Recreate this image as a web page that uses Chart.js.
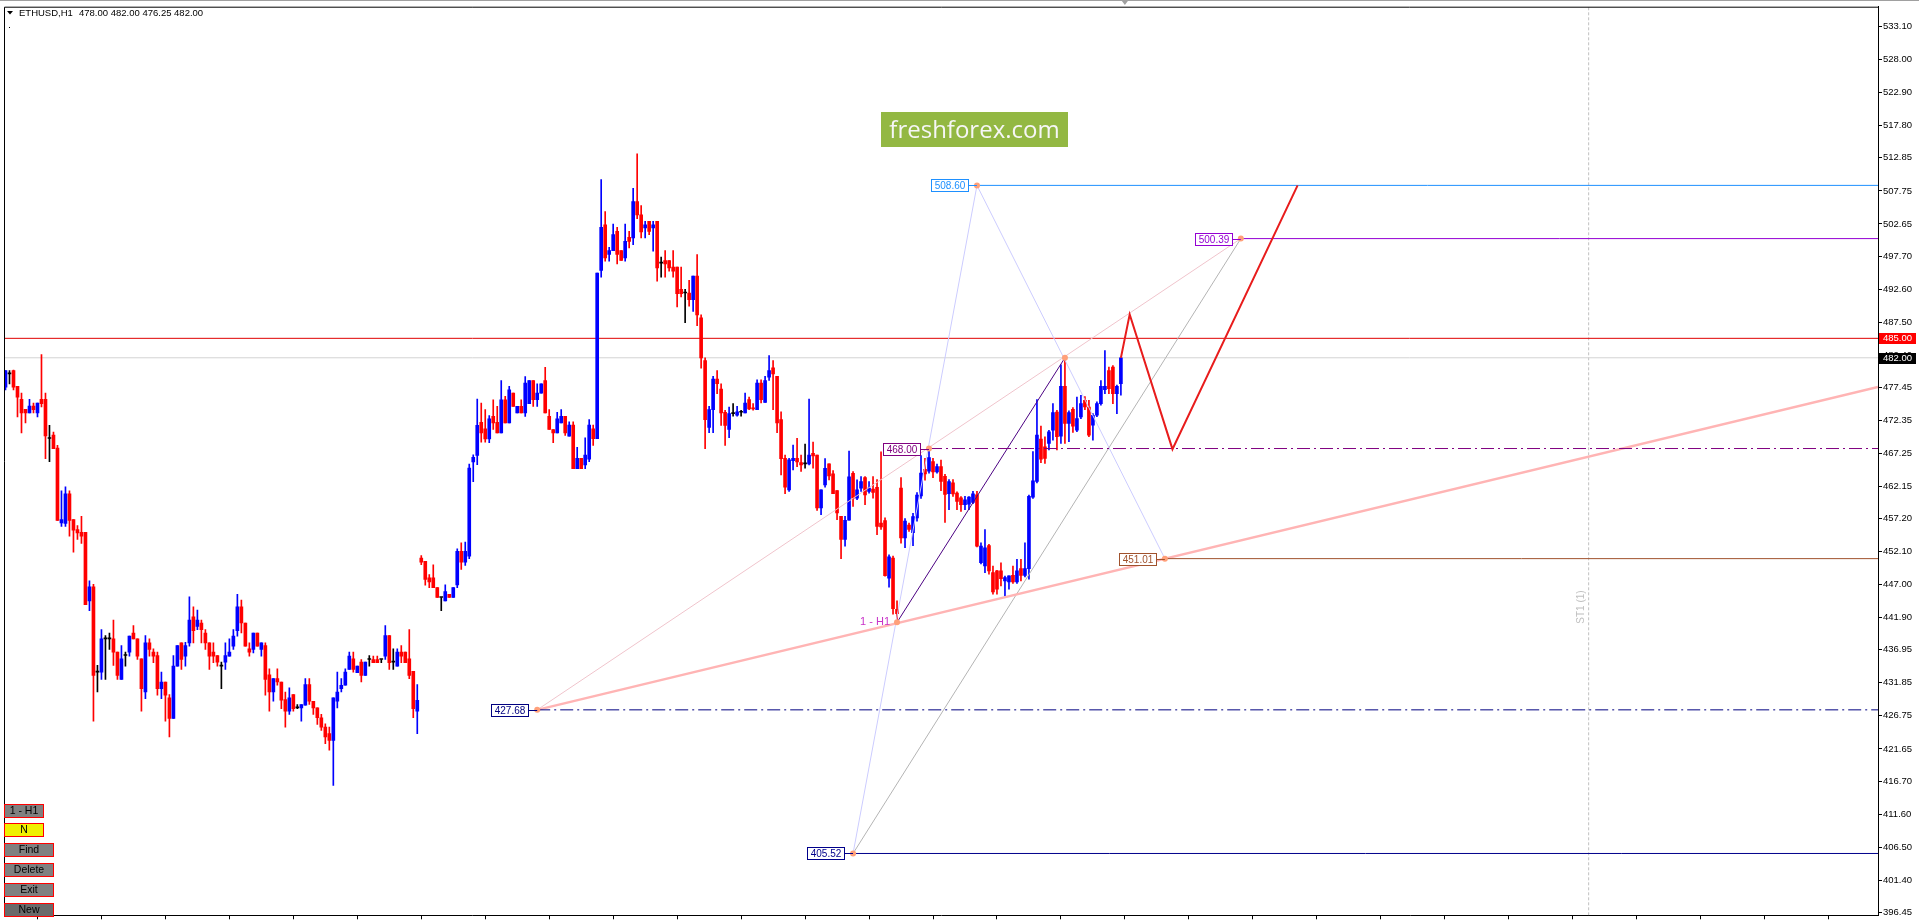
<!DOCTYPE html>
<html>
<head>
<meta charset="utf-8">
<script src="https://cdn.jsdelivr.net/npm/chart.js@4.4.1/dist/chart.umd.min.js"></script>
<style>
html, body { margin: 0; padding: 0; background: #fff; overflow: hidden; }
#wrap { width: 1919px; height: 922px; }
</style>
</head>
<body>
<div id="wrap"><canvas id="c" width="1919" height="922" style="width:1919px;height:922px"></canvas></div>
<script>
// ETHUSD H1 candles, left to right
var openP = [
477.47,479.52,480.03,477.58,475.58,474.05,473.49,474.56,473.49,475.58,475.58,469.55,470.06,468.07,456.52,456.46,461.01,457.03,455.49,455.08,
455.08,444.50,446.65,433.51,433.51,438.62,438.62,438.62,436.58,432.39,436.07,436.58,439.54,438.62,435.56,430.44,438.01,436.58,436.07,430.96,
431.98,429.52,426.35,434.43,438.01,435.96,438.01,442.05,440.57,441.08,439.54,438.01,436.58,436.07,434.43,435.04,435.96,437.50,439.90,443.58,
441.08,437.09,436.99,439.54,436.99,437.60,433.10,430.44,432.49,431.98,429.27,427.48,430.03,427.99,427.99,428.40,431.57,429.01,427.99,426.46,
425.02,424.00,422.97,429.01,430.96,431.47,433.92,435.56,433.41,435.04,433.00,435.45,435.45,435.45,435.45,435.96,439.13,435.04,434.43,436.58,
436.58,435.56,433.61,427.48,451.10,450.58,448.03,448.03,446.55,445.01,444.50,445.52,445.01,446.96,452.12,450.48,451.40,465.92,466.94,472.05,
471.03,469.50,472.97,472.05,470.42,475.53,471.95,476.55,473.49,474.51,473.49,474.92,478.50,475.53,476.55,478.50,472.97,470.93,470.42,471.95,
472.97,469.92,471.60,464.90,466.49,465.47,466.34,471.04,469.51,495.48,502.53,497.93,498.54,501.51,498.54,497.42,500.59,500.49,506.11,504.06,
502.02,503.04,502.02,503.04,496.60,497.01,497.01,495.99,495.99,492.56,492.00,492.00,490.98,494.61,488.17,481.57,471.25,474.01,478.71,477.18,
473.60,470.94,473.39,473.14,473.60,473.50,475.54,474.26,474.01,478.09,475.13,479.02,480.45,479.12,472.47,466.49,461.63,466.13,466.49,465.83,
465.62,465.62,467.26,467.00,458.82,462.40,465.62,464.09,461.53,457.55,453.96,456.93,464.19,460.35,461.89,463.52,461.38,461.73,462.00,456.50,
456.90,448.00,451.10,443.20,461.89,454.20,456.20,455.00,457.30,460.70,464.80,464.50,466.00,464.40,465.21,463.70,461.02,462.70,461.12,460.40,
459.33,459.43,459.69,460.86,450.38,449.87,453.04,448.85,449.11,449.11,447.57,447.42,448.44,447.42,449.47,448.44,449.47,460.51,462.91,469.45,
468.28,468.79,470.83,473.64,469.91,477.58,471.86,474.05,470.83,472.88,475.43,474.41,471.60,473.13,474.92,477.07,480.04,480.55,476.46,478.00
];
var highP = [
480.03,480.03,480.10,477.58,476.55,474.05,475.58,475.02,475.02,482.48,476.55,471.59,470.52,468.48,461.47,462.09,461.47,457.03,456.10,457.54,
455.08,447.57,447.06,434.53,440.05,439.13,439.54,441.54,436.58,437.60,436.58,439.08,440.67,438.62,435.56,439.13,438.62,437.09,436.58,433.51,
431.98,430.03,436.07,437.60,438.01,438.11,445.11,443.58,443.07,441.54,440.05,438.01,438.01,436.07,435.04,438.01,438.62,440.05,445.52,444.60,
441.08,438.01,439.54,439.54,438.01,438.01,434.02,432.49,434.02,431.98,430.44,431.06,430.03,428.50,428.50,432.49,432.49,429.01,427.99,426.97,
425.53,425.02,429.52,433.51,432.49,434.02,436.58,436.58,434.43,435.45,435.04,436.07,435.96,435.96,435.45,440.67,439.13,437.09,437.09,437.60,
436.58,440.05,433.61,431.57,451.50,450.58,448.54,450.07,446.55,445.01,446.96,445.52,446.55,452.53,453.45,453.55,465.61,467.04,475.63,475.02,
474.00,473.08,475.53,474.51,478.50,476.04,477.58,476.55,474.51,475.53,479.11,478.50,478.50,477.98,477.98,480.54,474.00,470.93,473.59,474.00,
472.97,472.11,472.11,468.18,466.49,469.66,472.47,471.60,495.07,509.48,504.57,499.05,502.63,502.12,498.54,502.63,501.51,508.15,513.47,505.50,
503.04,503.04,503.04,503.04,497.52,498.54,497.01,498.54,495.99,495.99,492.56,493.94,494.61,497.93,488.63,481.98,474.52,479.12,480.04,478.00,
473.90,474.41,474.92,474.52,473.90,476.56,475.95,474.92,478.60,478.60,479.12,482.34,481.57,479.12,473.65,467.00,466.49,468.54,469.56,467.00,
468.69,475.64,469.00,467.00,461.63,466.44,465.62,464.60,461.53,457.55,457.54,467.61,464.44,463.17,463.68,463.68,462.91,463.68,463.20,467.50,
457.30,451.60,451.40,444.50,463.50,457.20,456.50,458.00,461.20,466.90,466.50,468.00,466.50,465.60,466.20,464.00,463.20,463.20,461.30,460.60,
460.61,460.60,461.38,461.38,453.45,455.50,453.20,449.87,449.20,450.38,448.30,448.34,449.87,450.90,450.90,453.45,460.80,467.51,475.54,471.45,
469.81,470.80,474.92,473.90,480.90,482.00,473.80,474.30,475.95,476.20,476.00,475.43,473.40,475.20,478.50,483.10,480.55,480.80,477.80,482.00
];
var lowP = [
477.06,477.98,477.06,472.87,470.42,471.95,473.49,473.49,472.87,474.41,466.43,465.97,467.96,456.92,456.00,456.00,454.47,452.02,453.96,453.34,
443.89,442.97,425.94,430.44,432.39,432.39,436.99,434.53,432.39,432.39,434.43,435.96,438.62,435.45,427.48,429.42,435.96,434.94,429.93,429.42,
425.94,423.49,426.35,434.43,433.92,434.43,437.50,438.01,440.05,438.01,436.99,433.92,434.94,434.43,430.96,433.92,435.96,436.99,439.03,439.54,
437.50,435.96,436.47,437.50,435.96,429.93,427.48,429.01,431.47,427.88,425.02,426.97,427.48,427.88,425.94,428.40,428.50,426.97,425.43,424.51,
422.46,421.44,416.03,427.99,430.44,431.47,433.92,433.51,433.41,431.98,433.00,434.43,434.94,434.94,434.94,435.45,433.92,433.92,434.43,434.94,
434.94,432.49,426.46,424.00,450.07,446.90,446.55,446.55,445.01,442.97,444.50,445.01,445.01,446.55,449.36,449.97,451.00,462.90,465.51,468.99,
468.99,468.89,470.93,470.42,470.42,471.95,471.95,474.51,473.49,473.49,472.97,474.92,474.51,474.51,476.55,473.49,470.93,468.89,470.42,471.95,
470.01,469.92,464.90,464.90,464.90,464.90,465.98,468.48,469.51,494.45,496.91,496.91,498.54,496.50,497.01,496.91,498.95,499.46,503.45,500.49,
500.49,501.00,498.44,493.84,494.45,494.45,495.37,494.45,489.85,491.39,487.40,489.95,489.14,486.94,480.40,467.97,470.43,470.43,476.46,471.55,
468.48,469.66,472.98,472.98,472.98,473.50,474.01,473.90,474.01,475.03,475.13,478.50,474.01,470.43,463.93,461.02,461.38,464.70,465.21,464.45,
464.96,465.47,464.96,458.46,457.80,462.04,463.17,461.02,457.03,451.00,452.94,456.93,459.08,460.10,461.38,459.33,461.12,460.35,454.70,455.50,
448.30,446.60,442.46,441.20,453.40,452.70,455.20,453.00,456.80,460.30,463.10,464.20,463.50,464.20,461.50,456.60,458.57,460.60,458.57,458.31,
458.57,458.57,459.50,452.80,450.20,448.85,448.60,445.53,445.53,446.81,445.27,446.30,447.20,447.20,447.57,448.20,447.83,460.30,462.70,465.83,
465.72,467.77,469.30,467.77,468.79,468.79,469.04,470.47,470.60,472.60,474.00,469.81,469.30,472.90,474.70,476.46,476.46,474.92,473.39,476.25
];
var closeP = [
480.03,479.52,477.47,475.94,473.49,473.49,474.56,474.00,475.02,474.92,469.96,469.55,467.96,456.92,457.03,461.01,456.92,455.39,454.98,454.47,
443.89,446.65,433.00,433.51,438.62,438.62,438.62,436.58,433.00,435.56,436.07,439.08,438.62,435.96,430.96,438.01,436.99,435.96,430.96,431.98,
429.93,426.35,434.43,437.60,435.45,437.60,441.54,439.90,441.54,440.05,438.01,435.96,435.96,435.04,434.43,436.07,436.58,439.08,443.58,441.08,
437.50,436.58,439.54,437.50,438.01,432.39,430.44,432.49,431.98,429.16,427.48,429.52,427.88,427.99,428.50,431.57,429.01,427.99,426.46,425.02,
423.49,422.97,429.52,430.44,431.47,433.51,435.96,433.92,434.43,433.00,435.04,435.45,434.94,434.94,435.45,439.13,434.94,435.04,436.58,435.96,
434.94,433.00,427.88,429.16,450.48,447.82,447.41,446.55,445.01,445.01,445.93,445.01,446.55,452.12,450.48,452.12,465.00,466.64,471.59,470.42,
469.50,472.57,471.95,470.42,475.53,471.95,477.06,474.51,474.51,473.49,478.09,478.50,475.53,476.55,477.98,473.49,470.93,470.42,472.57,472.97,
470.42,471.60,464.90,466.49,464.90,467.00,471.60,469.51,495.07,502.12,497.42,498.54,501.00,497.93,497.01,499.97,499.97,506.11,504.06,501.41,
502.53,501.51,502.53,495.88,496.60,496.50,495.88,495.37,491.90,491.90,492.00,490.98,494.61,488.63,481.98,472.47,474.01,478.71,478.00,473.50,
471.55,473.39,473.39,473.65,473.60,475.03,474.11,474.11,478.09,475.54,478.50,480.04,479.53,471.96,466.44,462.04,466.24,466.49,465.93,465.47,
465.62,467.00,466.85,458.82,461.63,464.96,463.78,461.02,458.06,453.97,456.93,463.63,460.35,461.63,462.91,460.86,461.89,461.22,456.00,455.90,
448.40,451.30,443.30,442.50,454.20,456.80,455.50,457.50,460.80,464.20,464.10,466.60,464.40,465.20,462.91,460.90,462.91,461.00,459.84,459.33,
460.10,460.51,461.02,452.94,452.94,452.68,449.11,445.89,446.30,447.93,448.08,448.34,447.42,449.11,448.44,449.47,460.61,463.01,470.07,466.34,
466.49,470.58,473.54,469.81,477.58,471.86,473.54,471.45,472.62,474.92,474.41,470.07,473.13,474.92,477.58,477.58,477.22,476.46,477.58,482.00
];
var barIndex = closeP.map(function (v, i) { return i; });

// right axis labels
var priceTicks = ['533.10','528.00','522.90','517.80','512.85','507.75','502.65','497.70','492.60','487.50','482.40','477.45','472.35',
  '467.25','462.15','457.20','452.10','447.00','441.90','436.95','431.85','426.75','421.65','416.70','411.60','406.50','401.40','396.45'];

// drawn objects: level lines start at a bar and run to the right edge
var levelValues = [508.60, 500.39, 468.00, 451.01, 427.68, 405.52];
var levelStart  = [243, 309, 231, 290, 133, 212];
var levelColors = ['#1e90ff', '#9400d3', '#800080', '#a0522d', '#000080', '#00008b'];
var levelDashed = [false, false, true, false, true, false];
var lowPoint = { x: 223, y: 441.18, label: '1 - H1' };
var highPoint = { x: 265, y: 482.00 };
var projX = [279, 281.2, 291.9, 323.2];
var projY = [482.00, 488.70, 467.90, 508.60];
var bidPrice = 482.00;
var alertPrice = 485.00;
var separatorBar = 396;

var xMin = -0.375, xMax = 468.375;
var yMin = 395.98, yMax = 536.17;

var candleColor = barIndex.map(function (i) {
  if (closeP[i] > openP[i]) return '#0000ff';
  if (closeP[i] < openP[i]) return '#ff0000';
  return '#000000';
});

function seg(points, color, width, dash, order) {
  return {
    type: 'line', data: points, borderColor: color, borderWidth: width,
    borderDash: dash || [], pointRadius: 0, fill: false, tension: 0, order: order || 2
  };
}

var datasets = [];
datasets.push(seg([{ x: xMin, y: bidPrice }, { x: xMax, y: bidPrice }], '#d3d3d3', 1, null, 20));
datasets.push(seg([{ x: xMin, y: alertPrice }, { x: xMax, y: alertPrice }], '#e00000', 1, null, 20));
datasets.push(seg([{ x: separatorBar, y: yMin }, { x: separatorBar, y: yMax }], '#c0c0c0', 1, [3, 2], 20));

datasets.push({
  type: 'bar', data: barIndex.map(function (i) { return { x: i, y: [lowP[i], highP[i]] }; }),
  backgroundColor: candleColor, barThickness: 1, grouped: false, order: 11
});
datasets.push({
  type: 'bar', data: barIndex.map(function (i) { return { x: i, y: [openP[i], closeP[i]] }; }),
  backgroundColor: candleColor, barThickness: 3, minBarLength: 1, grouped: false, order: 10
});

levelValues.forEach(function (v, k) {
  datasets.push(seg([{ x: levelStart[k], y: v }, { x: xMax, y: v }], levelColors[k], 1, levelDashed[k] ? [13, 4, 2, 4] : null, 3));
});

// thick trend line through 427.68 and 451.01, extended to the edge
var slope = (levelValues[3] - levelValues[4]) / (levelStart[3] - levelStart[4]);
datasets.push(seg([{ x: levelStart[4], y: levelValues[4] }, { x: xMax, y: levelValues[4] + slope * (xMax - levelStart[4]) }], '#ffb4b4', 2.5, null, 4));
datasets.push(seg([{ x: levelStart[4], y: levelValues[4] }, { x: levelStart[1], y: levelValues[1] }], '#f0c4cc', 1, null, 4));
datasets.push(seg([{ x: levelStart[5], y: levelValues[5] }, { x: levelStart[1], y: levelValues[1] }], '#b4b4b4', 1, null, 4));
datasets.push(seg([{ x: levelStart[5], y: levelValues[5] }, { x: levelStart[0], y: levelValues[0] }, { x: levelStart[3], y: levelValues[3] }], '#ccccff', 1, null, 4));
datasets.push(seg([{ x: lowPoint.x, y: lowPoint.y }, { x: highPoint.x, y: highPoint.y }], '#4b0082', 1, null, 4));
datasets.push(seg(projX.map(function (x, k) { return { x: x, y: projY[k] }; }), '#e81c1c', 2, null, 2));

var markers = levelValues.map(function (v, k) { return { x: levelStart[k], y: v }; });
markers.push({ x: lowPoint.x, y: lowPoint.y }, { x: highPoint.x, y: highPoint.y });
datasets.push({
  type: 'line', data: markers, showLine: false, pointRadius: 3, pointBackgroundColor: '#ffa07a',
  pointBorderWidth: 0, order: 1
});

var FONT = '"Liberation Sans", Arial, sans-serif';

var decor = {
  id: 'decor',
  afterDraw: function (chart) {
    var ctx = chart.ctx, a = chart.chartArea;
    var xs = chart.scales.x, ys = chart.scales.y;
    ctx.save();
    // window frame
    ctx.fillStyle = '#a0a0a0';
    ctx.fillRect(0, 0, 1919, 1);
    ctx.strokeStyle = '#000';
    ctx.lineWidth = 1;
    ctx.beginPath();
    ctx.moveTo(a.left + 0.5, a.bottom);
    ctx.lineTo(a.left + 0.5, a.top + 0.5);
    ctx.lineTo(a.right, a.top + 0.5);
    ctx.stroke();
    // shift marker
    ctx.fillStyle = '#a0a0a0';
    ctx.beginPath();
    ctx.moveTo(xs.getPixelForValue(280) - 3, 1);
    ctx.lineTo(xs.getPixelForValue(280) + 3, 1);
    ctx.lineTo(xs.getPixelForValue(280), 5);
    ctx.closePath();
    ctx.fill();

    // header
    ctx.fillStyle = '#000';
    ctx.beginPath();
    ctx.moveTo(7, 11); ctx.lineTo(13, 11); ctx.lineTo(10, 14.5); ctx.closePath(); ctx.fill();
    ctx.font = '9.5px ' + FONT;
    ctx.textBaseline = 'middle';
    ctx.textAlign = 'left';
    ctx.fillText('ETHUSD,H1', 19, 13);
    ctx.fillText('478.00 482.00 476.25 482.00', 79, 13);
    ctx.fillRect(9, 27, 1, 1);

    // level labels
    ctx.font = '10px ' + FONT;
    levelValues.forEach(function (v, k) {
      var mx = xs.getPixelForValue(levelStart[k]);
      var my = Math.round(ys.getPixelForValue(v)) + 0.5;
      var bw = 37, bh = 12, bx = Math.round(mx - 9 - bw) + 0.5;
      ctx.strokeStyle = levelColors[k];
      ctx.beginPath(); ctx.moveTo(bx + bw, my); ctx.lineTo(mx, my); ctx.stroke();
      ctx.fillStyle = '#fff';
      ctx.fillRect(bx, my - 6, bw, bh);
      ctx.strokeRect(bx, my - 6, bw, bh);
      ctx.fillStyle = levelColors[k];
      ctx.textAlign = 'center';
      ctx.fillText(v.toFixed(2), bx + bw / 2, my + 0.5);
    });
    ctx.fillStyle = '#c832c8';
    ctx.textAlign = 'right';
    ctx.font = '11px ' + FONT;
    ctx.fillText(lowPoint.label, xs.getPixelForValue(lowPoint.x) - 7, ys.getPixelForValue(lowPoint.y));

    // separator caption
    ctx.save();
    ctx.translate(xs.getPixelForValue(separatorBar) - 7, 607);
    ctx.rotate(-Math.PI / 2);
    ctx.fillStyle = '#c0c0c0';
    ctx.font = '10px ' + FONT;
    ctx.textAlign = 'center';
    ctx.fillText('ST1 (1)', 0, 0);
    ctx.restore();

    // logo
    ctx.fillStyle = '#93b843';
    ctx.fillRect(881, 112, 187, 35);
    ctx.fillStyle = '#f6f6f6';
    ctx.font = '24px "Open Sans", sans-serif';
    ctx.textAlign = 'center';
    ctx.textBaseline = 'alphabetic';
    ctx.fillText('freshforex.com', 974.5, 137.5);

    // panel buttons
    var btns = [['1 - H1', 804, 39, '#808080'], ['N', 823, 39, '#f0f000'], ['Find', 843, 49, '#808080'],
      ['Delete', 863, 49, '#808080'], ['Exit', 883, 49, '#808080'], ['New', 903, 49, '#6a6a6a']];
    ctx.font = '10.5px ' + FONT;
    ctx.textBaseline = 'middle';
    btns.forEach(function (b) {
      ctx.fillStyle = b[3];
      ctx.fillRect(4.5, b[1] + 0.5, b[2], 13);
      ctx.strokeStyle = '#ff0000';
      ctx.strokeRect(4.5, b[1] + 0.5, b[2], 13);
      ctx.fillStyle = '#000';
      ctx.textAlign = 'center';
      ctx.fillText(b[0], 4.5 + b[2] / 2, b[1] + 7.5);
    });

    // price boxes on the axis
    [[alertPrice, '#ff0000'], [bidPrice, '#000000']].forEach(function (p) {
      var py = ys.getPixelForValue(p[0]);
      ctx.fillStyle = p[1];
      ctx.fillRect(1879, Math.round(py) - 5, 37, 11);
      ctx.fillStyle = '#fff';
      ctx.font = '9.5px ' + FONT;
      ctx.textAlign = 'left';
      ctx.fillText(p[0].toFixed(2), 1883, py + 0.5);
    });
    ctx.restore();
  }
};

new Chart(document.getElementById('c'), {
  type: 'bar',
  data: { datasets: datasets },
  options: {
    responsive: false,
    devicePixelRatio: 1,
    animation: false,
    events: [],
    layout: { padding: { left: 3, top: 4, right: 0, bottom: 0 } },
    plugins: { legend: { display: false }, tooltip: { enabled: false } },
    scales: {
      x: {
        type: 'linear', min: xMin, max: xMax, offset: false,
        afterBuildTicks: function (s) {
          var t = [];
          for (var v = 0; v <= xMax; v += 16) t.push({ value: v });
          s.ticks = t;
        },
        afterFit: function (s) { s.height = 4; },
        grid: { drawOnChartArea: false, drawTicks: true, tickLength: 4, color: '#000' },
        border: { display: true, color: '#000' },
        ticks: { display: false }
      },
      y: {
        position: 'right', min: yMin, max: yMax,
        afterBuildTicks: function (s) {
          s.ticks = priceTicks.map(function (t) { return { value: parseFloat(t) }; });
        },
        afterFit: function (s) { s.width = 41; },
        grid: { drawOnChartArea: false, drawTicks: true, tickLength: 4, color: '#000' },
        border: { display: true, color: '#000' },
        ticks: {
          autoSkip: false, padding: 1, color: '#000',
          font: { family: '"Liberation Sans", Arial, sans-serif', size: 9.5 },
          callback: function (v, i) { return priceTicks[i]; }
        }
      }
    }
  },
  plugins: [decor]
});
</script>
</body>
</html>
